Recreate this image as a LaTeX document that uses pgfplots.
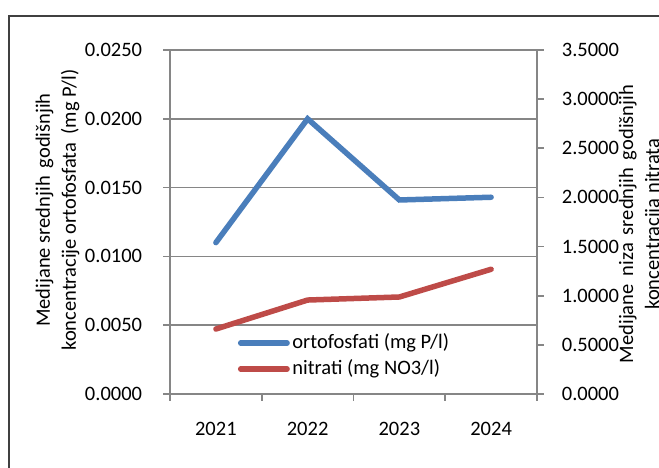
\documentclass[border=0pt]{standalone}
\usepackage{fontspec}
\setmainfont{Carlito}
\usepackage{pgfplots}
\pgfplotsset{compat=1.18}
\definecolor{serP}{RGB}{74,126,187}
\definecolor{serN}{RGB}{190,75,72}
\definecolor{axgray}{RGB}{134,134,134}
\newcommand\fs{\fontsize{10.25bp}{13bp}\selectfont}
\pgfplotsset{
  base/.style={
    scale only axis, width=183.5bp, height=172bp,
    at={(85bp,37bp)}, anchor=south west,
    xmin=0.5, xmax=4.5, ymin=0,
    tick align=outside,
    major tick length=3.25bp,
    tick style={axgray, line width=0.8bp},
    axis line style={axgray, line width=0.8bp},
    every tick label/.append style={font=\fs, text=black},
    yticklabel style={/pgf/number format/fixed, /pgf/number format/fixed zerofill,
      /pgf/number format/precision=4, /pgf/number format/assume math mode=true},
    scaled y ticks=false,
  }
}
\begin{document}
\begin{tikzpicture}
\useasboundingbox (0,0) rectangle (329.5bp,234bp);
\draw[black!75, line width=0.6bp] (4.5bp,-5bp) |- (340bp,226bp);

\begin{axis}[base,
  ymax=0.025,
  ytick={0,0.005,0.01,0.015,0.02,0.025},
  ymajorgrids, grid style={axgray, line width=0.8bp},
  ytick pos=left,
  xtick={0.5,1.5,2.5,3.5,4.5},
  x tick label as interval,
  xticklabels={2021,2022,2023,2024},
  xtick pos=bottom,
  yticklabel style={anchor=east, inner sep=0pt, xshift=-10.5bp},
  xticklabel style={anchor=base, inner sep=0pt, yshift=-17.25bp},
  ylabel={Medijane srednjih\, godišnjih\\koncentracije ortofosfata\, (mg P/l)},
  every axis y label/.style={at={(axis description cs:-0.3065,0.535)}, rotate=90, anchor=center, align=center, font=\fs},
]
\addplot[serP, line width=2.75bp, line cap=round] coordinates {
  (1,0.0110) (2,0.0200) (3,0.0141) (4,0.0143)
};
\end{axis}

\begin{axis}[base,
  ymax=3.5,
  ytick={0,0.5,1,1.5,2,2.5,3,3.5},
  axis x line=none,
  axis y line*=right,
  yticklabel style={anchor=west, inner sep=0pt, xshift=9bp},
  ylabel={Medijane\, niza\, srednjih\, godišnjih\\koncentracija nitrata},
  every axis y label/.style={at={(axis description cs:1.283,0.494)}, rotate=90, anchor=center, align=center, font=\fs},
  legend style={at={(axis description cs:0.1839,0.1105)}, anchor=west, draw=none, fill=none,
    inner sep=0pt, row sep=0pt, column sep=0pt, font=\fs,
    nodes={inner sep=1.25bp, text height=8bp, text depth=2.5bp, anchor=west}},
  legend cell align=left,
  legend image code/.code={
    \path[draw=none, fill=none] (0bp,-3bp) rectangle (26bp,3bp);
    \draw[#1, line cap=round] (1.4bp,0bp) -- (24.6bp,0bp);
  },
]
\addlegendimage{serP, line width=2.75bp}
\addlegendentry{ortofosfati (mg P/l)}
\addplot[serN, line width=2.75bp, line cap=round] coordinates {
  (1,0.661) (2,0.956) (3,0.987) (4,1.269)
};
\addlegendentry{nitrati (mg NO3/l)}
\end{axis}
\end{tikzpicture}
\end{document}
